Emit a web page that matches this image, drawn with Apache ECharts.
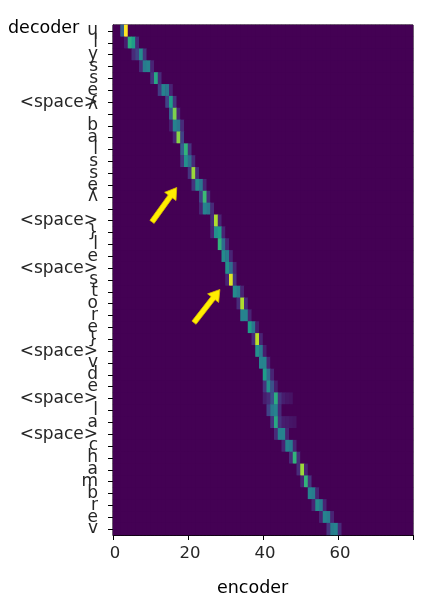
<!DOCTYPE html>
<html>
<head>
<meta charset="utf-8">
<script src="https://cdn.jsdelivr.net/npm/echarts@6/dist/echarts.min.js"></script>
<style>
  html, body { margin: 0; padding: 0; background: #fff; }
  #chart { width: 434px; height: 605px; }
</style>
</head>
<body>
<div id="chart"></div>
<script>
// decoder tokens, top to bottom
const decoderTokens = [
  'ɥ', 'l', 'y', 's', 's', 'e', '<space>', 'ʎ', 'b', 'a', 'l', 's', 's', 'e', 'ʎ', '',
  '<space>', '}', 'l', 'e', '<space>', 's', 't', 'o', 'r', 'e', '}', '<space>', 'v', 'd', 'e',
  '<space>', 'l', 'a', '<space>', 'c', 'h', 'a', 'm', 'b', 'r', 'e', 'v'
];
const encoderLen = 80;
const encoderTicks = [0, 20, 40, 60];

// attention weights: per decoder row, [encoder index, weight]
const attention = [
  [[2, .3], [3, 1]],
  [[3, .08], [4, .62], [5, .55], [6, .12]],
  [[5, .12], [6, .2], [7, .48], [8, .15]],
  [[7, .12], [8, .42], [9, .45], [10, .1]],
  [[10, .15], [11, .6], [12, .12]],
  [[12, .18], [13, .45], [14, .4], [15, .1]],
  [[14, .2], [15, .55], [16, .15]],
  [[15, .3], [16, .8], [17, .1]],
  [[15, .08], [16, .45], [17, .4], [18, .12]],
  [[16, .1], [17, .82], [18, .2]],
  [[18, .3], [19, .65], [20, .15]],
  [[18, .15], [19, .5], [20, .35], [21, .12]],
  [[20, .15], [21, .85], [22, .12]],
  [[21, .15], [22, .48], [23, .4], [24, .1]],
  [[23, .2], [24, .68], [25, .12]],
  [[23, .1], [24, .45], [25, .4], [26, .12]],
  [[26, .12], [27, .88], [28, .1]],
  [[26, .1], [27, .5], [28, .55], [29, .1]],
  [[28, .65], [29, .35], [30, .1]],
  [[29, .48], [30, .42], [31, .1]],
  [[30, .5], [31, .35], [32, .1]],
  [[30, .1], [31, .95], [32, .15]],
  [[32, .48], [33, .42], [34, .1]],
  [[33, .12], [34, .88], [35, .12]],
  [[34, .45], [35, .45], [36, .1]],
  [[36, .55], [37, .4], [38, .08]],
  [[37, .12], [38, .9], [39, .1]],
  [[38, .5], [39, .4], [40, .08]],
  [[39, .45], [40, .45], [41, .1]],
  [[40, .55], [41, .35], [42, .1]],
  [[40, .15], [41, .5], [42, .25], [43, .08]],
  [[40, .08], [41, .12], [42, .25], [43, .62], [44, .15], [45, .08], [46, .06], [47, .05]],
  [[41, .2], [42, .4], [43, .45], [44, .12]],
  [[42, .15], [43, .6], [44, .15], [45, .08], [46, .07], [47, .06], [48, .05]],
  [[43, .12], [44, .45], [45, .45], [46, .1]],
  [[45, .1], [46, .45], [47, .42], [48, .1]],
  [[47, .12], [48, .65], [49, .12]],
  [[49, .12], [50, .85], [51, .1]],
  [[50, .1], [51, .65], [52, .15]],
  [[52, .45], [53, .42], [54, .1]],
  [[53, .1], [54, .48], [55, .42], [56, .1]],
  [[55, .1], [56, .45], [57, .42], [58, .1]],
  [[57, .15], [58, .42], [59, .45], [60, .12]]
];

// yellow arrows, in data units: [tailX, tailRow, tipX, tipRow]
const arrows = [
  [9.9, 16.1, 16.5, 13.2],
  [21.1, 24.6, 28.0, 21.8]
];

const viridis = ['#440154', '#482878', '#3e4989', '#31688e', '#26828e',
  '#1f9e89', '#35b779', '#6ece58', '#b5de2b', '#fde725'];

const encoderCats = [];
for (let i = 0; i < encoderLen; i++) encoderCats.push(String(i));

let cells = [];
decoderTokens.forEach((tok, r) => {
  let row = {};
  (attention[r] || []).forEach(p => { row[p[0]] = p[1]; });
  for (let c = 0; c < encoderLen; c++) {
    cells.push([c, r, row[c] || 0]);
  }
});

let myChart = echarts.init(document.getElementById('chart'));
let font = 'DejaVu Sans';
let option = {
  animation: false,
  textStyle: { fontFamily: font },
  title: [
    { text: 'decoder', left: 3, top: 14, textStyle: { fontSize: 17.5, fontWeight: 'normal', color: '#000', fontFamily: font } },
    { text: 'encoder', left: 212, top: 574, textStyle: { fontSize: 17.5, fontWeight: 'normal', color: '#000', fontFamily: font } }
  ],
  grid: {
    left: 113, right: 21, top: 25, bottom: 70,
    show: true, backgroundColor: '#450457', borderColor: '#000', borderWidth: 1
  },
  xAxis: {
    type: 'category',
    data: encoderCats,
    position: 'bottom',
    axisLine: { show: true, lineStyle: { color: '#000', width: 1 } },
    axisTick: {
      show: true, inside: false, length: 5, lineStyle: { color: '#000', width: 1 },
      interval: (i) => encoderTicks.indexOf(i) >= 0
    },
    axisLabel: {
      interval: (i) => encoderTicks.indexOf(i) >= 0,
      fontSize: 16.5, color: '#262626', margin: 10, fontFamily: font
    },
    splitLine: { show: false }
  },
  yAxis: {
    type: 'category',
    data: decoderTokens,
    inverse: true,
    axisLine: { show: true, lineStyle: { color: '#000', width: 1 } },
    axisTick: { show: true, inside: false, alignWithLabel: true, interval: 0, length: 5, lineStyle: { color: '#000', width: 1 } },
    axisLabel: {
      interval: 0, fontSize: 17, color: '#262626', margin: 15, fontFamily: font,
      formatter: (v, i) => (i === 7 ? '{up|' + v + '}' : v),
      rich: { up: { fontSize: 17, color: '#262626', fontFamily: font, padding: [0, 0, 18, 0] } }
    },
    splitLine: { show: false }
  },
  visualMap: {
    show: false, min: 0, max: 1, calculable: false,
    inRange: { color: viridis }
  },
  series: [{
    type: 'heatmap',
    data: cells,
    itemStyle: { borderWidth: 0 },
    emphasis: { disabled: true }
  }]
};
myChart.setOption(option);

// arrows: data units -> pixels through the grid
let p00 = myChart.convertToPixel({ gridIndex: 0 }, [0, 0]);
let p11 = myChart.convertToPixel({ gridIndex: 0 }, [1, 1]);
let sx = p11[0] - p00[0], sy = p11[1] - p00[1];
function toPx(x, y) { return [p00[0] + x * sx, p00[1] + y * sy]; }

let arrowEls = arrows.map(a => {
  let t = toPx(a[0], a[1]), h = toPx(a[2], a[3]);
  let dx = h[0] - t[0], dy = h[1] - t[1];
  let len = Math.sqrt(dx * dx + dy * dy);
  let ux = dx / len, uy = dy / len, nx = -uy, ny = ux;
  let w = 2.6, hw = 7, hl = 11;
  let nk = [h[0] - ux * hl, h[1] - uy * hl];
  return {
    type: 'polygon',
    shape: {
      points: [
        [t[0] + nx * w, t[1] + ny * w],
        [nk[0] + nx * w, nk[1] + ny * w],
        [nk[0] + nx * hw, nk[1] + ny * hw],
        h,
        [nk[0] - nx * hw, nk[1] - ny * hw],
        [nk[0] - nx * w, nk[1] - ny * w],
        [t[0] - nx * w, t[1] - ny * w]
      ]
    },
    style: { fill: '#ffee00', stroke: '#d8b800', lineWidth: 0.8 },
    z: 100
  };
});
myChart.setOption({ graphic: arrowEls });
</script>
</body>
</html>
